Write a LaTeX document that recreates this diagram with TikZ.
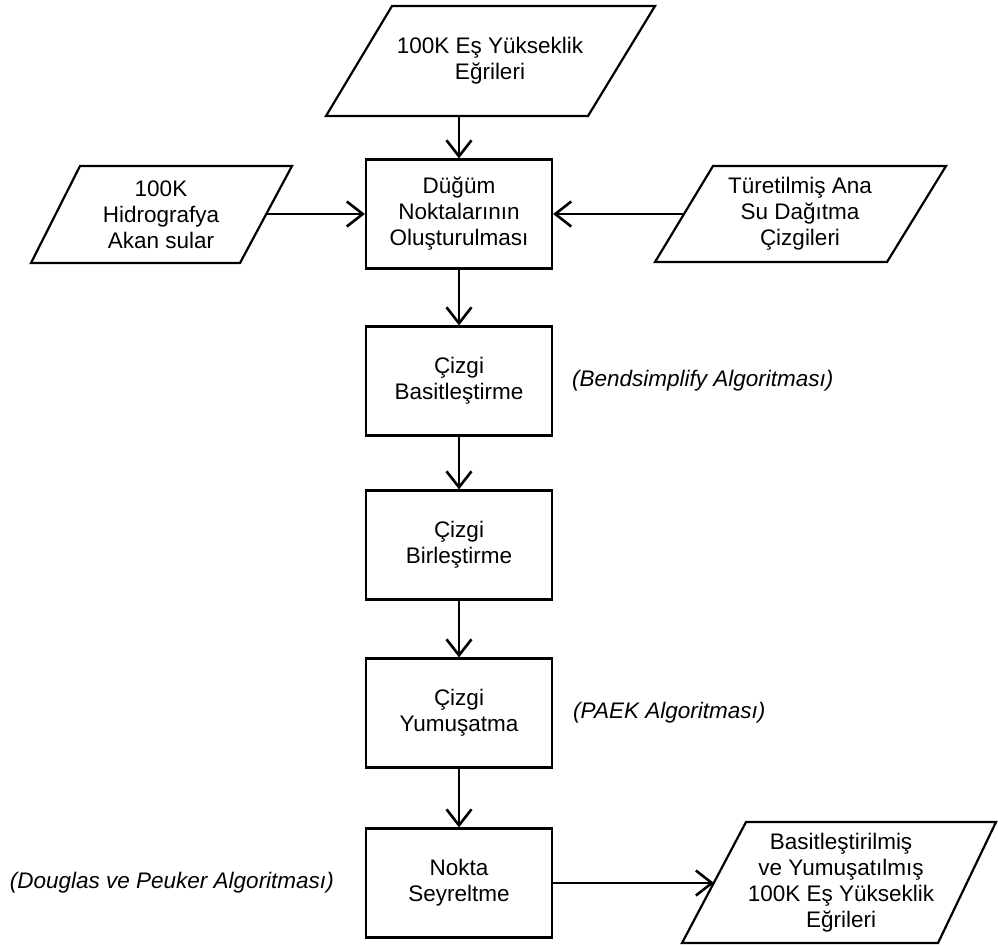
\documentclass[tikz,border=0pt]{standalone}
\usepackage{fontspec}
\setmainfont{Liberation Sans}
\usetikzlibrary{arrows.meta,calc}
\begin{document}
\begin{tikzpicture}[x=1pt,y=-1pt,
  box/.style={draw, line width=2.2pt, minimum width=186pt, minimum height=109pt, align=center, inner sep=0pt, font=\fontsize{22.5}{26}\selectfont},
  txt/.style={align=center, inner sep=0pt, font=\fontsize{22.5}{26}\selectfont},
  note/.style={inner sep=0pt, font=\fontsize{22.5}{26}\selectfont\itshape},
  para/.style={draw, line width=2.2pt, line join=miter},
  arr/.style={line width=2.6pt, -{Straight Barb[length=16pt,width=25pt]}}]
\useasboundingbox (0,0) rectangle (998,945);

% process boxes
\node[box] (b1) at (459,214) {Düğüm\\Noktalarının\\Oluşturulması};
\node[box] (b2) at (459,381) {Çizgi\\Basitleştirme};
\node[box] (b3) at (459,545) {Çizgi\\Birleştirme};
\node[box] (b4) at (459,713) {Çizgi\\Yumuşatma};
\node[box] (b5) at (459,883) {Nokta\\Seyreltme};

% input / output parallelograms
\draw[para] (392,6) -- (655,6) -- (588,116) -- (326,116) -- cycle;
\node[txt] (p1) at (490,61) {100K Eş Yükseklik\\Eğrileri};
\coordinate (p1out) at (459,116);

\draw[para] (80,166) -- (292,166) -- (240,263) -- (31,263) -- cycle;
\node[txt] (p2) at (161,214.5) {100K\\Hidrografya\\Akan sular};
\coordinate (p2out) at (266,214);

\draw[para] (713,166) -- (946,166) -- (887,262) -- (655,262) -- cycle;
\node[txt] (p3) at (800,214) {Türetilmiş Ana\\Su Dağıtma\\Çizgileri};
\coordinate (p3out) at (684,214);

\draw[para] (746,822) -- (996,822) -- (938,943) -- (682,943) -- cycle;
\node[txt] (p4) at (841,883) {Basitleştirilmiş\\ve Yumuşatılmış\\100K Eş Yükseklik\\Eğrileri};
\coordinate (p4in) at (714,883);

% annotations
\node[note, anchor=west] (n1) at (572,381) {(Bendsimplify Algoritması)};
\node[note, anchor=west] (n2) at (573,713) {(PAEK Algoritması)};
\node[note, anchor=east] (n3) at (334,883) {(Douglas ve Peuker Algoritması)};

% connectors
\draw[arr] (p1out) -- (b1.north);
\draw[arr] (p2out) -- (p2out -| b1.west);
\draw[arr] (p3out) -- (p3out -| b1.east);
\draw[arr] (b1.south) -- (b2.north);
\draw[arr] (b2.south) -- (b3.north);
\draw[arr] (b3.south) -- (b4.north);
\draw[arr] (b4.south) -- (b5.north);
\draw[arr] (b5.east) -- (p4in);
\end{tikzpicture}
\end{document}
